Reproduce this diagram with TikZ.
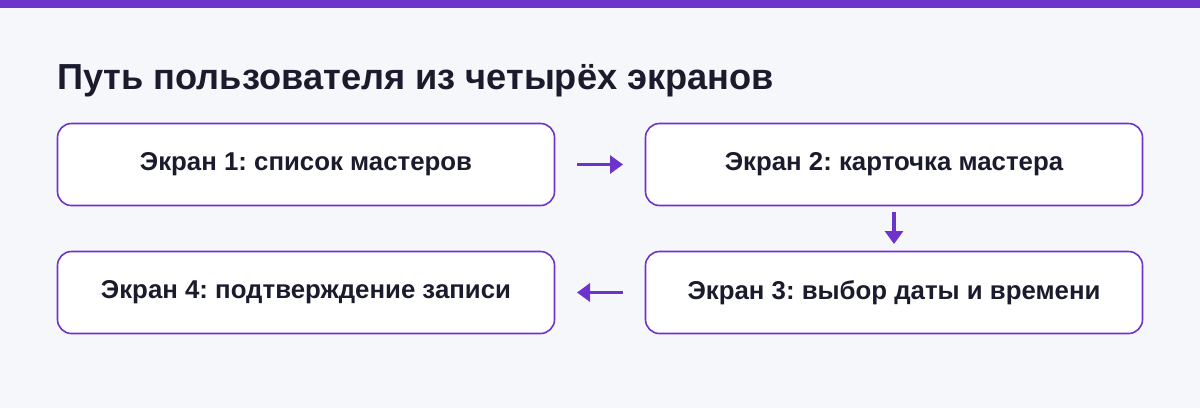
\documentclass[tikz,border=0pt]{standalone}
\usepackage{fontspec}
\setmainfont{Liberation Sans}
\usetikzlibrary{arrows.meta}
\definecolor{bgc}{HTML}{F6F7FB}
\definecolor{purp}{HTML}{6E33CB}
\definecolor{ink}{HTML}{1A1C2E}
\tikzset{
  screen/.style={draw=purp, line width=1.6pt, fill=white, rounded corners=14pt,
    minimum width=497pt, minimum height=82pt, inner sep=0pt, outer sep=0pt,
    font=\fontsize{25.8}{30}\selectfont\bfseries, text=ink, anchor=north west},
  flow/.style={draw=purp, line width=3.2pt, -{Triangle[length=13pt,width=18pt]}}
}
\frenchspacing
\begin{document}
\begin{tikzpicture}[x=1pt,y=1pt]
\useasboundingbox (0,0) rectangle (1200,-408);
\fill[bgc] (0,0) rectangle (1200,-408);
\fill[purp] (0,0) rectangle (1200,-8);
\node[anchor=base west, inner sep=0pt, text=ink, font=\fontsize{36.2}{42}\selectfont\bfseries] (title) at (57,-89) {Путь пользователя из четырёх экранов};
\node[screen] (s1) at (57.5,-123.5) {Экран 1: список мастеров};
\node[screen] (s2) at (645.5,-123.5) {Экран 2: карточка мастера};
\node[screen] (s3) at (645.5,-251.5) {Экран 3: выбор даты и времени};
\node[screen] (s4) at (57.5,-251.5) {Экран 4: подтверждение записи};
\coordinate (a1s) at (577,-164.5);
\coordinate (a1e) at (623,-164.5);
\coordinate (a2s) at (894,-212);
\coordinate (a2e) at (894,-244);
\coordinate (a3s) at (623,-292.5);
\coordinate (a3e) at (577,-292.5);
\draw[flow] (a1s) -- (a1e);
\draw[flow] (a2s) -- (a2e);
\draw[flow] (a3s) -- (a3e);
\end{tikzpicture}
\end{document}
